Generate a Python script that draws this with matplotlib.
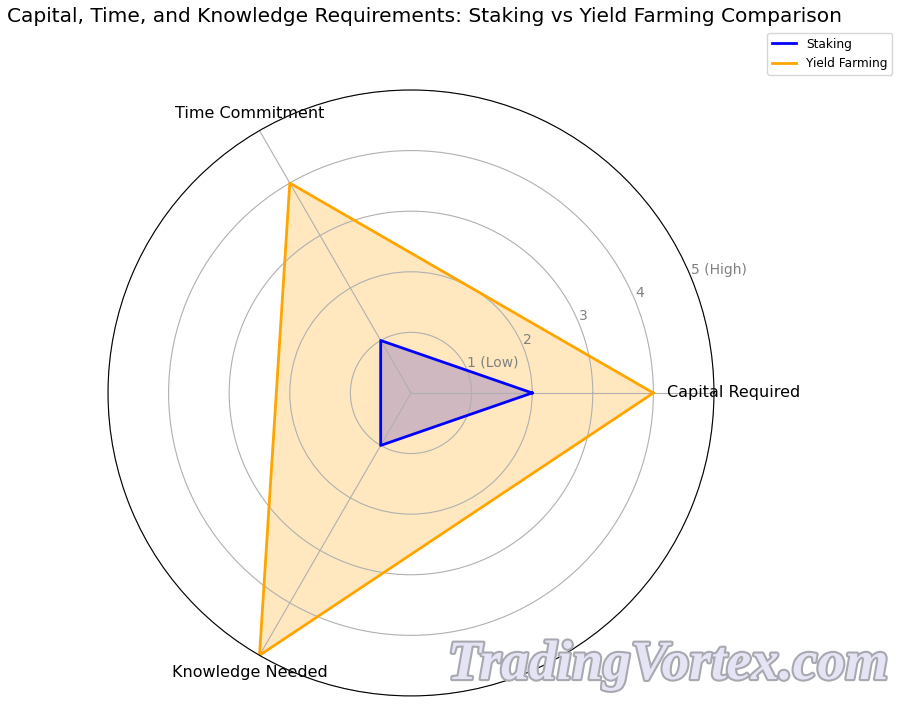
import numpy as np
import matplotlib
matplotlib.use('Agg')
from matplotlib import pyplot as plt
import matplotlib.patheffects as pe

categories = ['Capital Required', 'Time Commitment', 'Knowledge Needed']
staking = [2, 1, 1]
yield_farming = [4, 4, 5]
r_ticks = [1, 2, 3, 4, 5]
r_labels = ['1 (Low)', '2', '3', '4', '5 (High)']

angles = np.linspace(0, 2 * np.pi, len(categories), endpoint=False).tolist()
angles_closed = angles + angles[:1]

fig = plt.figure(figsize=(9, 7.06), dpi=100)
ax = fig.add_axes([0.12, 0.0142, 0.6733, 0.8584], polar=True)

s = staking + staking[:1]
y = yield_farming + yield_farming[:1]
ax.plot(angles_closed, s, color='blue', linewidth=2, label='Staking')
ax.fill(angles_closed, s, color='blue', alpha=0.25)
ax.plot(angles_closed, y, color='orange', linewidth=2, label='Yield Farming')
ax.fill(angles_closed, y, color='orange', alpha=0.25)

ax.set_xticks(angles)
ax.set_xticklabels(categories, fontsize=11.5)
ax.set_ylim(0, 5)
ax.set_yticks(r_ticks)
ax.set_yticklabels(r_labels, color='grey', fontsize=10)
ax.set_rlabel_position(22.5)
ax.grid(color='#b0b0b0', linewidth=0.8)

fig.text(0.472, 0.977, 'Capital, Time, and Knowledge Requirements: Staking vs Yield Farming Comparison',
         ha='center', va='center', fontsize=14.5)
fig.legend(loc='upper right', bbox_to_anchor=(0.998, 0.962), fontsize=8.7)

wm = fig.text(0.742, 0.058, 'TradingVortex.com', ha='center', va='center', fontsize=40,
              family='Liberation Serif', style='italic', weight='bold', color='#e4e4f4')
wm.set_path_effects([pe.withStroke(linewidth=3, foreground='#a8a8b0')])

plt.savefig('out.png', dpi=100)
